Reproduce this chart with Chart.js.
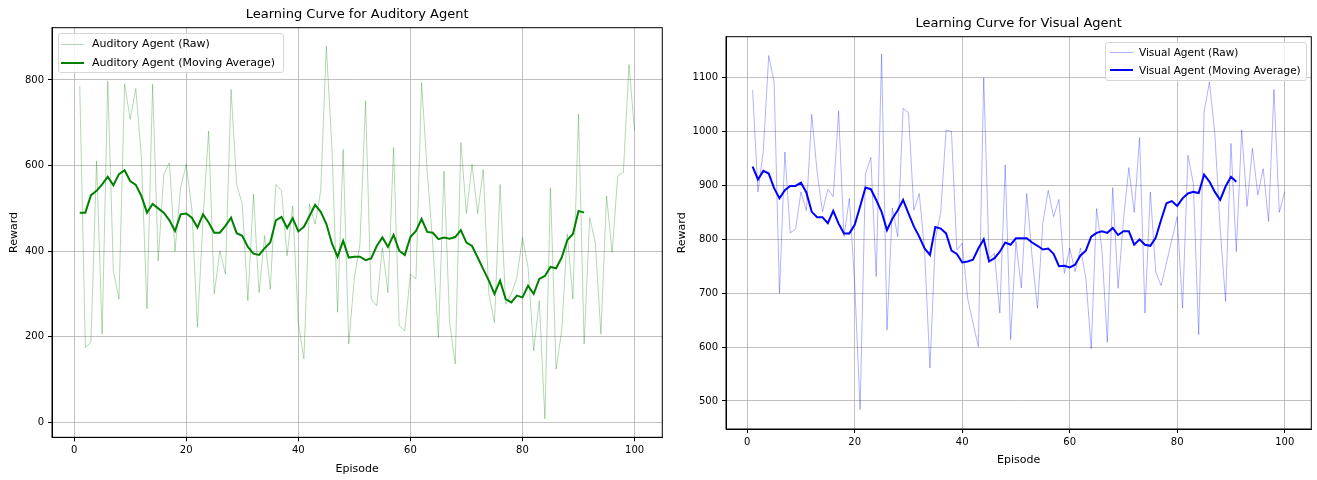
<!DOCTYPE html>
<html>
<head>
<meta charset="utf-8">
<script src="https://cdn.jsdelivr.net/npm/chart.js@4.4.1/dist/chart.umd.min.js"></script>
<style>
html,body{margin:0;padding:0;background:#fff;width:1317px;height:480px;overflow:hidden;font-family:"DejaVu Sans",sans-serif;}
canvas{position:absolute;top:0;}
#c1{left:0;}
#c2{left:670px;}
.legend{position:absolute;border:1px solid #d6d6d6;border-radius:3px;background:rgba(255,255,255,0.8);font-size:11px;color:#000;box-sizing:border-box;}
.row{position:absolute;left:0;right:0;height:14px;white-space:nowrap;}
.sw{position:absolute;height:0;}
.lt{position:absolute;top:0;line-height:14px;}
</style>
</head>
<body>
<canvas id="c1" width="670" height="480"></canvas>
<canvas id="c2" width="647" height="480"></canvas>
<div id="leg1" class="legend" style="left:58px;top:33px;width:226px;height:40px;"></div>
<div id="leg2" class="legend" style="left:1105px;top:42px;width:202px;height:39px;font-size:10.5px;"></div>
<script>
// ---------- data ----------
const episodes = Array.from({length: 100}, (_, i) => i + 1);
const maEpisodes = episodes.slice(0, 91);

const auditoryRaw = [786,175,187,611,206,797,354,288,791,708,
  780,620,265,790,377,580,607,400,548,603,
  500,222,475,681,300,401,346,778,556,510,
  284,533,303,436,311,556,541,389,506,233,
  148,510,463,541,879,642,257,638,183,338,
  416,751,288,272,408,303,642,226,214,346,
  335,794,587,416,198,587,233,136,654,488,
  603,488,591,300,233,556,276,300,338,432,
  362,167,284,8,548,124,214,440,288,720,
  183,478,420,206,529,397,576,584,836,681];

const auditoryMA = [490,490,531,541,556,574,554,580,589,564,
  555,529,490,510,500,490,472,447,486,488,
  478,455,486,467,443,443,459,478,442,436,
  410,394,391,407,420,472,480,454,477,446,
  457,482,508,492,464,418,387,424,385,387,
  387,379,383,412,432,410,438,401,391,433,
  447,475,445,443,428,432,429,433,449,420,
  412,385,358,331,300,331,288,280,296,292,
  319,300,335,342,363,360,385,426,440,494,490];

const visualRaw = [1077,888,965,1141,1092,700,962,812,819,888,
  853,1032,925,851,893,879,1038,805,876,717,
  484,922,952,731,1144,632,858,805,1043,1035,
  854,885,780,561,800,850,1003,1000,780,793,
  691,645,601,1100,765,774,663,938,614,796,
  710,885,768,672,830,891,842,874,737,784,
  740,784,728,597,857,780,609,896,709,836,
  933,850,989,663,888,740,714,756,799,842,
  672,956,904,623,1036,1092,996,820,685,978,
  777,1003,861,969,882,931,833,1078,850,888];

const visualMA = [935,911,927,922,895,876,891,899,899,905,
  887,851,841,841,830,853,829,811,811,827,
  861,896,893,873,851,817,838,854,873,848,
  824,805,783,771,823,820,811,779,773,757,
  759,762,783,800,759,765,777,794,790,802,
  802,802,794,788,781,783,773,750,751,748,
  753,770,779,805,812,815,812,821,808,815,
  815,790,800,790,788,803,836,867,871,862,
  876,885,888,886,920,907,888,873,898,916,907];

const xTicks = [0, 20, 40, 60, 80, 100];
const auditoryYTicks = [0, 200, 400, 600, 800];
const visualYTicks = [500, 600, 700, 800, 900, 1000, 1100];

const auditoryLabels = ['Auditory Agent (Raw)', 'Auditory Agent (Moving Average)'];
const visualLabels = ['Visual Agent (Raw)', 'Visual Agent (Moving Average)'];
const titles = ['Learning Curve for Auditory Agent', 'Learning Curve for Visual Agent'];

// ---------- helpers ----------
const FONT = '"DejaVu Sans", sans-serif';
function pts(xs, ys) { return ys.map((v, i) => ({x: xs[i], y: v})); }

const framePlugin = {
  id: 'frame',
  afterDraw(chart, args, opts) {
    const {ctx, chartArea: a} = chart;
    ctx.save();
    ctx.strokeStyle = '#000';
    ctx.lineWidth = 1;
    ctx.strokeRect(a.left, a.top, a.right - a.left, a.bottom - a.top);
    ctx.fillStyle = '#000';
    ctx.font = '13px ' + FONT;
    ctx.textAlign = 'center';
    ctx.textBaseline = 'middle';
    ctx.fillText(opts.text, (a.left + a.right) / 2, opts.y);
    ctx.restore();
  }
};

function makeChart(id, c) {
  const W = c.W, H = c.H;
  return new Chart(document.getElementById(id), {
    type: 'line',
    data: {
      datasets: [
        {label: c.labels[0], data: pts(episodes, c.raw), borderColor: c.rawColor, borderWidth: 1,
         pointRadius: 0, tension: 0, fill: false},
        {label: c.labels[1], data: pts(maEpisodes, c.ma), borderColor: c.maColor, borderWidth: 2,
         pointRadius: 0, tension: 0, fill: false}
      ]
    },
    options: {
      responsive: false,
      animation: false,
      events: [],
      layout: {padding: {left: 0, top: c.area.top, right: W - c.area.right, bottom: 0}},
      plugins: {
        legend: {display: false},
        tooltip: {enabled: false},
        title: {display: false},
        frame: {text: c.title, y: c.titleY}
      },
      scales: {
        x: {
          type: 'linear', min: -3.95, max: 104.95,
          afterBuildTicks: s => { s.ticks = xTicks.map(v => ({value: v})); },
          afterFit: s => { s.height = H - c.area.bottom; },
          ticks: {color: '#000', font: {family: FONT, size: 10}, padding: 3, maxRotation: 0, autoSkip: false,
                  callback: v => String(v)},
          grid: {color: '#b0b0b0', lineWidth: 0.8, tickLength: 4, tickColor: '#000', tickWidth: 1},
          border: {display: true, color: '#000', width: 1},
          title: {display: true, text: 'Episode', color: '#000', font: {family: FONT, size: 11},
                  padding: {top: 0, bottom: c.xTitlePad}}
        },
        y: {
          type: 'linear', min: c.ymin, max: c.ymax,
          afterBuildTicks: s => { s.ticks = c.yTicks.map(v => ({value: v})); },
          afterFit: s => { s.width = c.area.left; },
          ticks: {color: '#000', font: {family: FONT, size: 10}, padding: 4, autoSkip: false,
                  callback: v => String(v)},
          grid: {color: '#b0b0b0', lineWidth: 0.8, tickLength: 4, tickColor: '#000', tickWidth: 1},
          border: {display: true, color: '#000', width: 1},
          title: {display: true, text: 'Reward', color: '#000', font: {family: FONT, size: 11},
                  padding: {top: c.yTitlePad, bottom: 0}}
        }
      }
    },
    plugins: [framePlugin]
  });
}

makeChart('c1', {
  W: 670, H: 480,
  area: {left: 52, top: 27.7, right: 662.3, bottom: 437.3},
  raw: auditoryRaw, ma: auditoryMA, labels: auditoryLabels,
  rawColor: 'rgba(0,128,0,0.3)', maColor: '#008000',
  ymin: -35.1, ymax: 922.2, yTicks: auditoryYTicks,
  title: titles[0], titleY: 15, xTitlePad: 4.4, yTitlePad: 7.4
});

makeChart('c2', {
  W: 647, H: 480,
  area: {left: 56, top: 36.7, right: 641.3, bottom: 429},
  raw: visualRaw, ma: visualMA, labels: visualLabels,
  rawColor: 'rgba(0,0,255,0.3)', maColor: '#0000ff',
  ymin: 448, ymax: 1176, yTicks: visualYTicks,
  title: titles[1], titleY: 24, xTitlePad: 13.4, yTitlePad: 5.4
});

// ---------- legends ----------
function buildLegend(id, labels, colors, widths, rowTops, swLeft, swWidth, textLeft) {
  const el = document.getElementById(id);
  labels.forEach((lab, i) => {
    const row = document.createElement('div');
    row.className = 'row';
    row.style.top = rowTops[i] + 'px';
    const sw = document.createElement('div');
    sw.className = 'sw';
    sw.style.left = swLeft + 'px';
    sw.style.width = swWidth + 'px';
    sw.style.top = (7 - widths[i] / 2) + 'px';
    sw.style.borderTop = widths[i] + 'px solid ' + colors[i];
    const t = document.createElement('span');
    t.className = 'lt';
    t.style.left = textLeft + 'px';
    t.textContent = lab;
    row.appendChild(sw);
    row.appendChild(t);
    el.appendChild(row);
  });
}
buildLegend('leg1', auditoryLabels, ['rgba(0,128,0,0.3)', '#008000'], [1, 2], [3, 21.5], 2, 23, 33);
buildLegend('leg2', visualLabels, ['rgba(0,0,255,0.3)', '#0000ff'], [1, 2], [2, 20], 4, 23, 33);
</script>
</body>
</html>
